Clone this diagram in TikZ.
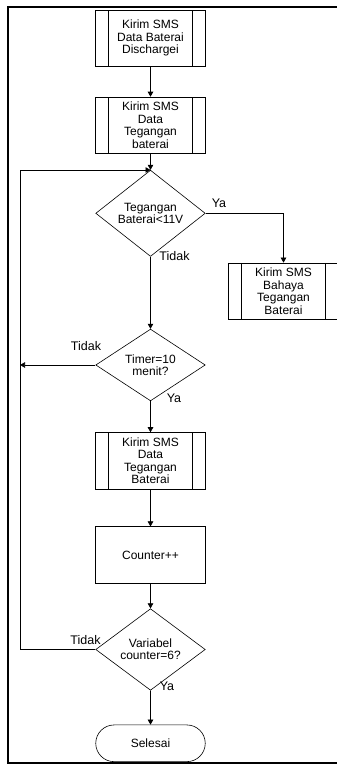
\documentclass[tikz,border=0pt]{standalone}
\usepackage{fontspec}
\setmainfont{Liberation Sans}
\usepackage{tikz}
\usetikzlibrary{
  shapes.geometric, shapes.misc, arrows.meta, positioning, calc
}
\tikzstyle{subproc} = [
  rectangle, draw, line width=0.6pt, align=center, inner sep=0pt,
  minimum width=109.5pt, minimum height=56.5pt,
  font=\fontsize{12}{12.4}\selectfont,
  path picture={
    \draw ([xshift=12.5pt]path picture bounding box.north west) -- ([xshift=12.5pt]path picture bounding box.south west);
    \draw ([xshift=-12.5pt]path picture bounding box.north east) -- ([xshift=-12.5pt]path picture bounding box.south east);
  }
]
\tikzstyle{process} = [
  rectangle, draw, line width=0.6pt, align=center, inner sep=0pt,
  minimum width=109.5pt, minimum height=56.5pt,
  font=\fontsize{12}{12.4}\selectfont
]
\tikzstyle{decision} = [
  diamond, draw, line width=0.6pt, align=center, inner sep=0pt,
  minimum width=109.5pt, minimum height=56.5pt,
  font=\fontsize{12}{12.4}\selectfont
]
\tikzstyle{terminal} = [
  rounded rectangle, draw, line width=0.6pt, inner sep=0pt,
  minimum width=109.5pt, minimum height=36.7pt,
  font=\fontsize{12}{12.4}\selectfont
]
\tikzstyle{lbl} = [font=\fontsize{12.5}{13}\selectfont, inner sep=0pt]
\tikzstyle{arrow} = [-{Triangle[length=5pt,width=5.5pt]}, line width=0.6pt]

\begin{document}
\begin{tikzpicture}[x=1pt, y=1pt]

  \clip (0,0) rectangle (337,766);
  \useasboundingbox (0,0) rectangle (337,766);

  % outer frame
  \draw[line width=2pt] (345,758.5) -- (7.5,758.5) -- (7.5,3) -- (345,3);

  \node[subproc] (kirim1) at (150.5,727.7) {Kirim SMS\\Data Baterai\\Dischargei};
  \node[subproc] (kirim2) at (150.5,640.7) {Kirim SMS\\Data\\Tegangan\\baterai};
  \node[decision] (cekvolt) at (150.5,552.7) {Tegangan\\Baterai<11V};
  \node[subproc] (bahaya) at (283.5,474.8) {Kirim SMS\\Bahaya\\Tegangan\\Baterai};
  \node[decision] (timer) at (150.5,401) {Timer=10\\menit?};
  \node[subproc] (kirim3) at (150.5,305.2) {Kirim SMS\\Data\\Tegangan\\Baterai};
  \node[process] (counter) at (150.5,211) {Counter++};
  \node[decision] (cekcount) at (150.5,116.5) {Variabel\\counter=6?};
  \node[terminal] (selesai) at (150.5,22.7) {Selesai};

  \coordinate (loop) at (150.5,596);
  \coordinate (rail) at (20,0);

  \draw[arrow] (kirim1) -- (kirim2);
  \draw[arrow] (kirim2) -- (cekvolt);
  \draw[arrow] (cekvolt.east) -| (bahaya.north);
  \draw[arrow] (cekvolt) -- (timer);
  \draw[arrow] (timer.west) -- (timer.west -| rail);
  \draw[arrow] (timer) -- (kirim3);
  \draw[arrow] (kirim3) -- (counter);
  \draw[arrow] (counter) -- (cekcount);
  \draw[arrow] (cekcount) -- (selesai);
  \draw[arrow] (cekcount.west) -- (cekcount.west -| rail) |- (loop);

  % labels
  \node[lbl] (ya1) at (219,563) {Ya};
  \node[lbl] (tidak1) at (174.5,510) {Tidak};
  \node[lbl] (tidak2) at (86,420) {Tidak};
  \node[lbl] (ya2) at (174,368) {Ya};
  \node[lbl] (tidak3) at (85.5,126) {Tidak};
  \node[lbl] (ya3) at (167,80) {Ya};

\end{tikzpicture}
\end{document}
